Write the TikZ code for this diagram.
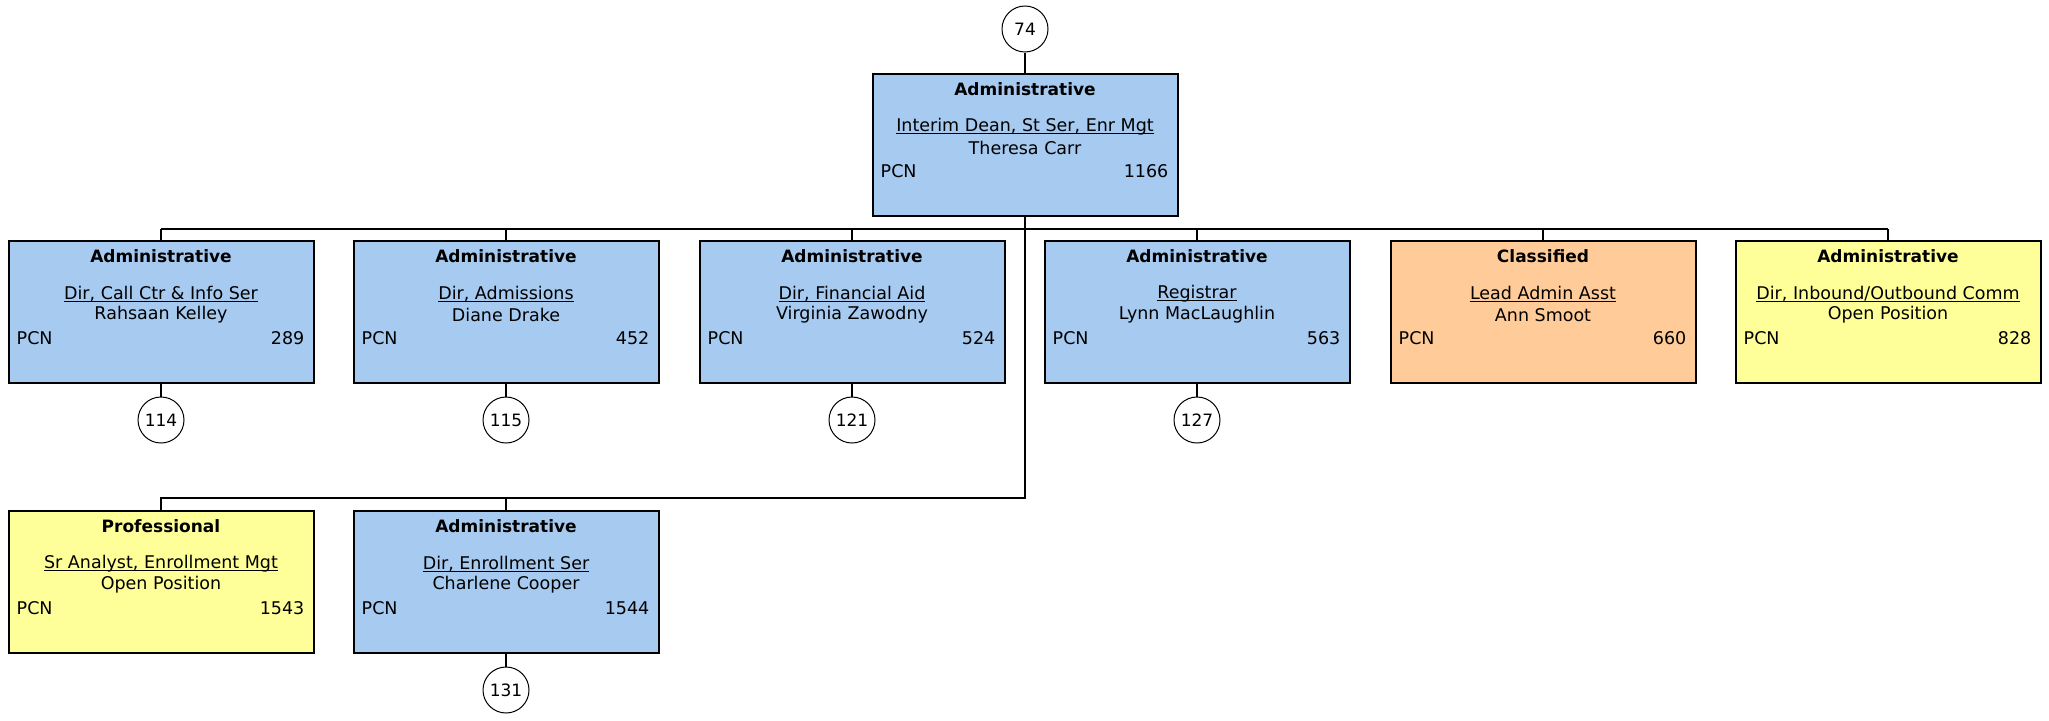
\documentclass[tikz,border=0pt]{standalone}
\usepackage{fontspec}
\setmainfont{DejaVu Sans}
\definecolor{admblue}{HTML}{A6CAF0}
\definecolor{clsorange}{HTML}{FFCC99}
\definecolor{openyellow}{HTML}{FFFF99}
\newcommand\myul[1]{\setbox0\hbox{#1}\rlap{\rule[-2.6pt]{\wd0}{1.2pt}}\box0}
\tikzset{
  posbox/.style={draw=black, line width=2pt, minimum width=305pt, minimum height=142pt, inner sep=0pt},
  numcirc/.style={draw=black, line width=1pt, circle, minimum size=46pt, inner sep=0pt, fill=white, font=\fontsize{17}{20}\selectfont},
  conn/.style={draw=black, line width=2pt},
  cattext/.style={font=\fontsize{17}{20}\selectfont\bfseries, inner sep=0pt},
  bodytext/.style={font=\fontsize{17.5}{20}\selectfont, inner sep=0pt},
}
\newcommand\posn[8]{%
  \node[posbox, fill=#4] (#1) at (#2,#3) {};
  \node[cattext] (#1cat) at ([yshift=-16pt]#1.north) {#5};
  \node[bodytext] (#1ttl) at ([yshift=-54pt]#1.north) {\myul{#6}};
  \node[bodytext] (#1nm) at ([yshift=-75pt]#1.north) {#7};
  \node[bodytext, anchor=west] (#1pcn) at ([xshift=9pt,yshift=-98pt]#1.north west) {PCN};
  \node[bodytext, anchor=east] (#1num) at ([xshift=-10pt,yshift=-98pt]#1.north east) {#8};
}
\begin{document}
\begin{tikzpicture}[x=1pt,y=-1pt]
\useasboundingbox (0,0) rectangle (2049,720);
% boxes
\posn{top}{1025}{145}{admblue}{Administrative}{Interim Dean, St Ser, Enr Mgt}{Theresa Carr}{1166}
\posn{ba}{161}{312}{admblue}{Administrative}{Dir, Call Ctr \& Info Ser}{Rahsaan Kelley}{289}
\posn{bb}{506}{312}{admblue}{Administrative}{Dir, Admissions}{Diane Drake}{452}
\posn{bc}{852}{312}{admblue}{Administrative}{Dir, Financial Aid}{Virginia Zawodny}{524}
\posn{bd}{1197}{312}{admblue}{Administrative}{Registrar}{Lynn MacLaughlin}{563}
\posn{be}{1543}{312}{clsorange}{Classified}{Lead Admin Asst}{Ann Smoot}{660}
\posn{bf}{1888}{312}{openyellow}{Administrative}{Dir, Inbound/Outbound Comm}{Open Position}{828}
\posn{bg}{161}{582}{openyellow}{Professional}{Sr Analyst, Enrollment Mgt}{Open Position}{1543}
\posn{bh}{506}{582}{admblue}{Administrative}{Dir, Enrollment Ser}{Charlene Cooper}{1544}
% circles
\node[numcirc] (c74) at (1025,29) {74};
\node[numcirc] (c114) at (161,420) {114};
\node[numcirc] (c115) at (506,420) {115};
\node[numcirc] (c121) at (852,420) {121};
\node[numcirc] (c127) at (1197,420) {127};
\node[numcirc] (c131) at (506,690) {131};
% connectors
\coordinate (busL) at (161,229);
\coordinate (busR) at (1888,229);
\coordinate (trunk) at (1025,498);
\draw[conn] (c74) -- (top.north);
\draw[conn] (busL) -- (busR);
\draw[conn] (top.south) -- (trunk) -- (bg.north |- trunk) -- (bg.north);
\draw[conn] (bh.north |- trunk) -- (bh.north);
\foreach \b in {ba,bb,bc,bd,be,bf} {\draw[conn] (\b.north |- busL) -- (\b.north);}
\draw[conn] (ba.south) -- (c114);
\draw[conn] (bb.south) -- (c115);
\draw[conn] (bc.south) -- (c121);
\draw[conn] (bd.south) -- (c127);
\draw[conn] (bh.south) -- (c131);
\end{tikzpicture}
\end{document}
